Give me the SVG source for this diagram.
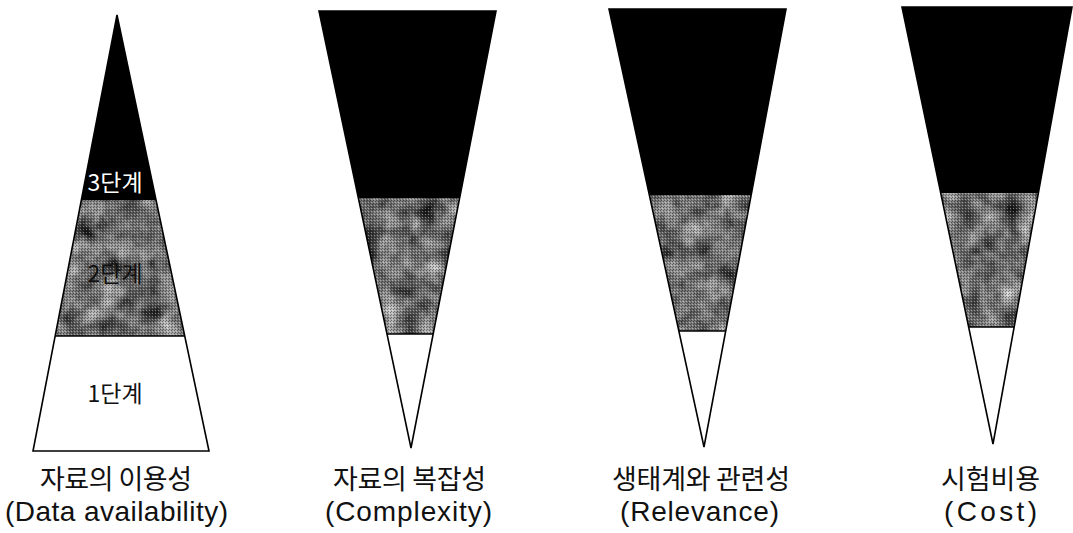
<svg xmlns="http://www.w3.org/2000/svg" width="1073" height="533" viewBox="0 0 1073 533">
<defs>
  <filter id="mottle" x="0" y="0" width="100%" height="100%" color-interpolation-filters="sRGB">
    <feTurbulence type="fractalNoise" baseFrequency="0.05" numOctaves="4" seed="7" result="noise"/>
    <feColorMatrix in="noise" type="matrix" values="0.5 0.5 0.5 0 -0.3  0.5 0.5 0.5 0 -0.3  0.5 0.5 0.5 0 -0.3  0 0 0 0 1" result="gray"/>
    <feComposite in="gray" in2="SourceGraphic" operator="in"/>
  </filter>
  <pattern id="dots" width="3" height="3" patternUnits="userSpaceOnUse">
    <rect x="0" y="0" width="1" height="1" fill="#000"/>
    <rect x="2" y="1" width="1" height="1" fill="#fff"/>
    <rect x="1" y="2" width="1" height="1" fill="#000"/>
  </pattern>
</defs>
<style>
  .blk { fill: #000; }
  .tex { fill: #666; filter: url(#mottle); }
  .dot { fill: url(#dots); opacity: 0.4; }
  .wht { fill: #fff; }
  .out { fill: none; stroke: #000; stroke-width: 1.6; stroke-linejoin: miter; }
  .kr { font-family: "Noto Sans CJK KR", "Noto Sans", sans-serif; font-size: 27px; fill: #111; text-anchor: middle; }
  .en { font-family: "Liberation Sans", Arial, sans-serif; font-size: 28px; fill: #111; text-anchor: middle; }
  .st { font-family: "Noto Sans CJK KR", sans-serif; font-size: 23px; text-anchor: middle; }
</style>
<rect width="1073" height="533" fill="#fff"/>

<g id="availability">
  <polygon class="blk" points="117,15 81.4,200 156,200"/>
  <polygon class="tex" points="81.4,200 156,200 184.7,336 55.1,336"/>
  <polygon class="dot" points="81.4,200 156,200 184.7,336 55.1,336"/>
  <polygon class="wht" points="55.1,336 184.7,336 209,451 33,451"/>
  <line class="out" x1="55.1" y1="336" x2="184.7" y2="336"/>
  <polygon class="out" points="117,15 209,451 33,451"/>
  <text class="st" x="115" y="191" fill="#fff">3단계</text>
  <text class="st" x="115" y="282" fill="#111">2단계</text>
  <text class="st" x="115" y="402" fill="#111">1단계</text>
  <text class="kr" x="116" y="489" textLength="152" lengthAdjust="spacing">자료의 이용성</text>
  <text class="en" x="116.5" y="521" textLength="223" lengthAdjust="spacing">(Data availability)</text>
</g>

<g id="complexity">
  <polygon class="blk" points="319,11 496,11 459.6,198 358.4,198"/>
  <polygon class="tex" points="358.4,198 459.6,198 433.2,334 387,334"/>
  <polygon class="dot" points="358.4,198 459.6,198 433.2,334 387,334"/>
  <polygon class="wht" points="387,334 433.2,334 411,448"/>
  <line class="out" x1="387" y1="334" x2="433.2" y2="334"/>
  <polygon class="out" points="319,11 496,11 411,448"/>
  <text class="kr" x="409.5" y="489" textLength="153" lengthAdjust="spacing">자료의 복잡성</text>
  <text class="en" x="408.5" y="521" textLength="167" lengthAdjust="spacing">(Complexity)</text>
</g>

<g id="relevance">
  <polygon class="blk" points="609,9 786,9 751.2,195 649.3,195"/>
  <polygon class="tex" points="649.3,195 751.2,195 725.7,331 678.8,331"/>
  <polygon class="dot" points="649.3,195 751.2,195 725.7,331 678.8,331"/>
  <polygon class="wht" points="678.8,331 725.7,331 704,447"/>
  <line class="out" x1="678.8" y1="331" x2="725.7" y2="331"/>
  <polygon class="out" points="609,9 786,9 704,447"/>
  <text class="kr" x="701" y="489" textLength="178" lengthAdjust="spacing">생태계와 관련성</text>
  <text class="en" x="699.5" y="521" textLength="159" lengthAdjust="spacing">(Relevance)</text>
</g>

<g id="cost">
  <polygon class="blk" points="902,7 1072,7 1038.4,193 940.7,193"/>
  <polygon class="tex" points="940.7,193 1038.4,193 1014.1,327 968.6,327"/>
  <polygon class="dot" points="940.7,193 1038.4,193 1014.1,327 968.6,327"/>
  <polygon class="wht" points="968.6,327 1014.1,327 993,444"/>
  <line class="out" x1="968.6" y1="327" x2="1014.1" y2="327"/>
  <polygon class="out" points="902,7 1072,7 993,444"/>
  <text class="kr" x="990.5" y="489" textLength="99" lengthAdjust="spacing">시험비용</text>
  <text class="en" x="990.5" y="521" textLength="93" lengthAdjust="spacing">(Cost)</text>
</g>

<g id="connectors"/>
</svg>
